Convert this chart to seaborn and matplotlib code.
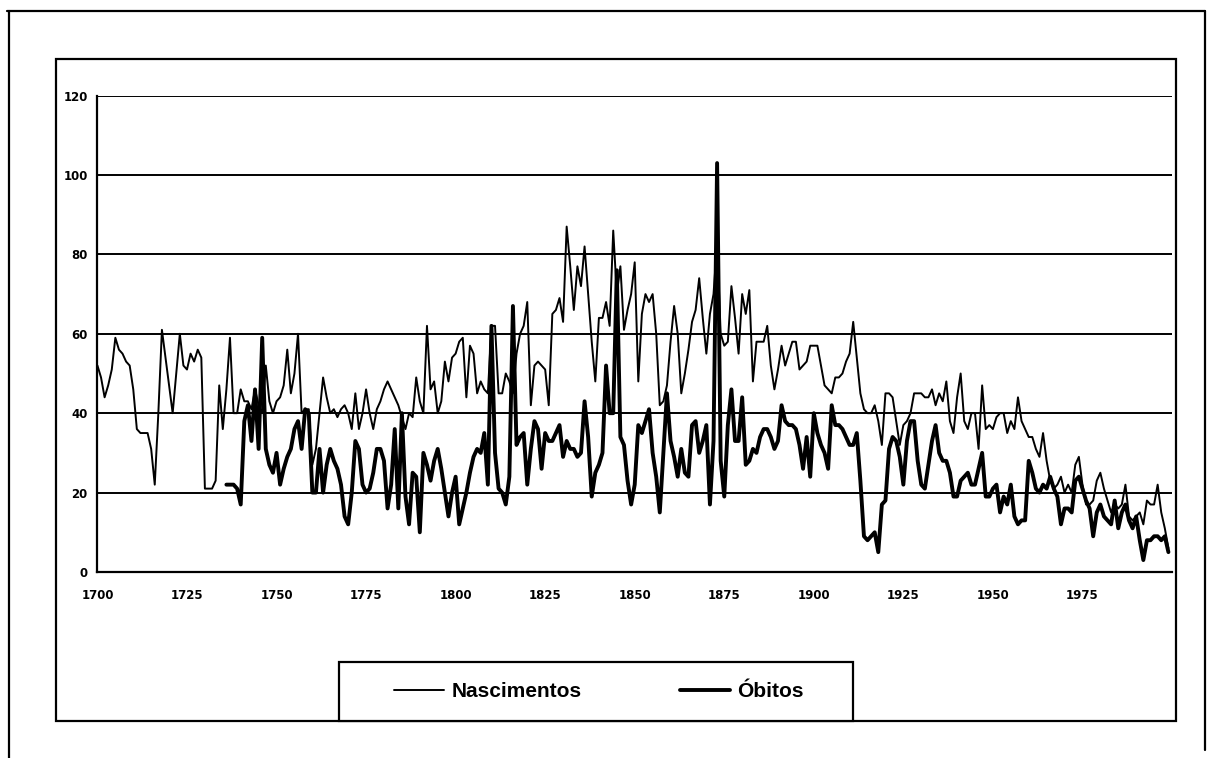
import numpy as np
import pandas as pd
import matplotlib
matplotlib.use('Agg')
import matplotlib.pyplot as plt
from matplotlib.lines import Line2D
from matplotlib.patches import Rectangle
import seaborn as sns

# births per year, 1700-1999
nasc_years = list(range(1700, 2000))
nascimentos = (
    [52, 49, 44, 47, 51, 59, 56, 55, 53, 52]
    + [46, 36, 35, 35, 35, 31, 22, 40, 61, 54]
    + [47, 40, 50, 60, 52, 51, 55, 53, 56, 54]
    + [21, 21, 21, 23, 47, 36, 46, 59, 40, 40]
    + [46, 43, 43, 41, 46, 42, 40, 52, 43, 40]
    + [43, 44, 47, 56, 45, 50, 60, 40, 41, 41]
    + [27, 31, 40, 49, 44, 40, 41, 39, 41, 42]
    + [40, 36, 45, 36, 40, 46, 40, 36, 41, 43]
    + [46, 48, 46, 44, 42, 39, 36, 40, 39, 49]
    + [43, 40, 62, 46, 48, 40, 43, 53, 48, 54]
    + [55, 58, 59, 44, 57, 55, 45, 48, 46, 45]
    + [62, 62, 45, 45, 50, 48, 45, 55, 60, 62]
    + [68, 42, 52, 53, 52, 51, 42, 65, 66, 69]
    + [63, 87, 77, 66, 77, 72, 82, 70, 58, 48]
    + [64, 64, 68, 62, 86, 70, 77, 61, 66, 70]
    + [78, 48, 65, 70, 68, 70, 60, 42, 43, 47]
    + [58, 67, 60, 45, 50, 56, 63, 66, 74, 64]
    + [55, 65, 70, 83, 60, 57, 58, 72, 64, 55]
    + [70, 65, 71, 48, 58, 58, 58, 62, 52, 46]
    + [51, 57, 52, 55, 58, 58, 51, 52, 53, 57]
    + [57, 57, 52, 47, 46, 45, 49, 49, 50, 53]
    + [55, 63, 54, 45, 41, 40, 40, 42, 38, 32]
    + [45, 45, 44, 38, 32, 37, 38, 40, 45, 45]
    + [45, 44, 44, 46, 42, 45, 43, 48, 38, 35]
    + [44, 50, 38, 36, 40, 40, 31, 47, 36, 37]
    + [36, 39, 40, 40, 35, 38, 36, 44, 38, 36]
    + [34, 34, 31, 29, 35, 28, 23, 21, 22, 24]
    + [20, 22, 20, 27, 29, 22, 17, 17, 18, 23]
    + [25, 21, 18, 15, 17, 16, 17, 22, 14, 13]
    + [14, 15, 12, 18, 17, 17, 22, 15, 11, 6]
)

# deaths per year, 1736-1999
obit_years = list(range(1736, 2000))
obitos = (
    [22, 22, 22, 21]
    + [17, 38, 42, 33, 46, 31, 59, 31, 27, 25]
    + [30, 22, 26, 29, 31, 36, 38, 31, 41, 40]
    + [20, 20, 31, 20, 27, 31, 28, 26, 22, 14]
    + [12, 20, 33, 31, 22, 20, 21, 25, 31, 31]
    + [28, 16, 22, 36, 16, 40, 19, 12, 25, 24]
    + [10, 30, 27, 23, 28, 31, 26, 20, 14, 20]
    + [24, 12, 16, 20, 25, 29, 31, 30, 35, 22]
    + [62, 30, 21, 20, 17, 24, 67, 32, 34, 35]
    + [22, 31, 38, 36, 26, 35, 33, 33, 35, 37]
    + [29, 33, 31, 31, 29, 30, 43, 34, 19, 25]
    + [27, 30, 52, 40, 40, 76, 34, 32, 23, 17]
    + [22, 37, 35, 38, 41, 30, 24, 15, 30, 45]
    + [33, 29, 24, 31, 25, 24, 37, 38, 30, 33]
    + [37, 17, 33, 103, 28, 19, 37, 46, 33, 33]
    + [44, 27, 28, 31, 30, 34, 36, 36, 34, 31]
    + [33, 42, 38, 37, 37, 36, 32, 26, 34, 24]
    + [40, 35, 32, 30, 26, 42, 37, 37, 36, 34]
    + [32, 32, 35, 23, 9, 8, 9, 10, 5, 17]
    + [18, 31, 34, 33, 29, 22, 33, 38, 38, 28]
    + [22, 21, 27, 33, 37, 30, 28, 28, 25, 19]
    + [19, 23, 24, 25, 22, 22, 26, 30, 19, 19]
    + [21, 22, 15, 19, 17, 22, 14, 12, 13, 13]
    + [28, 25, 21, 20, 22, 21, 24, 21, 19, 12]
    + [16, 16, 15, 23, 24, 21, 18, 16, 9, 15]
    + [17, 14, 13, 12, 18, 11, 15, 17, 13, 11]
    + [14, 8, 3, 8, 8, 9, 9, 8, 9, 5]
)

x_ticks = list(range(1700, 2000, 25))
y_ticks = [0, 20, 40, 60, 80, 100, 120]

sns.set_style('white')
plt.rcParams['font.family'] = ['DejaVu Sans']
plt.rcParams['text.color'] = 'black'
plt.rcParams['xtick.color'] = 'black'
plt.rcParams['ytick.color'] = 'black'

fig = plt.figure(figsize=(12.15, 7.58), dpi=100)
ax = fig.add_axes([0.0802, 0.2454, 0.8844, 0.6285])

for y in y_ticks[1:]:
    ax.axhline(y, color='black', lw=1.4, zorder=1)

sns.lineplot(x=nasc_years, y=nascimentos, color='black', lw=1.4, ax=ax, zorder=3)
sns.lineplot(x=obit_years, y=obitos, color='black', lw=2.8, ax=ax, zorder=2)

ax.set_xlim(1700, 2000)
ax.set_ylim(0, 120)
ax.set_xticks(x_ticks)
ax.set_yticks(y_ticks)
ax.set_xticklabels([str(t) for t in x_ticks], fontsize=8.5, fontweight='bold', color='black')
ax.set_yticklabels([str(t) for t in y_ticks], fontsize=8.5, fontweight='bold', color='black')
ax.tick_params(axis='both', direction='out', length=4, width=1.3, color='black', pad=3)
ax.tick_params(axis='x', pad=8)
for side in ['top', 'right']:
    ax.spines[side].set_visible(False)
for side in ['left', 'bottom']:
    ax.spines[side].set_color('black')
    ax.spines[side].set_linewidth(1.6)
ax.set_xlabel('')
ax.set_ylabel('')

# chart area box and page frame
fig.patches.append(Rectangle((0.0461, 0.0488), 0.9218, 0.8734, transform=fig.transFigure,
                             fill=False, edgecolor='black', lw=1.6))
fig.lines.append(Line2D([0.006, 0.992], [0.985, 0.985], transform=fig.transFigure, color='black', lw=1.6))
fig.lines.append(Line2D([0.0074, 0.0074], [0.0, 0.985], transform=fig.transFigure, color='black', lw=1.6))
fig.lines.append(Line2D([0.9918, 0.9918], [0.01, 0.985], transform=fig.transFigure, color='black', lw=1.6))

# legend box touching the bottom of the chart area
fig.patches.append(Rectangle((0.279, 0.0488), 0.423, 0.0778, transform=fig.transFigure,
                             fill=True, facecolor='white', edgecolor='black', lw=1.6, zorder=5))
handles = [Line2D([], [], color='black', lw=1.4), Line2D([], [], color='black', lw=2.8)]
leg = fig.legend(handles, ['Nascimentos', 'Óbitos'], loc='center', bbox_to_anchor=(0.493, 0.0877),
                 ncol=2, frameon=False, handlelength=2.4, handletextpad=0.35, columnspacing=4.7,
                 prop={'family': 'Liberation Sans', 'size': 15, 'weight': 'bold'})
for t in leg.get_texts():
    t.set_color('black')
leg.set_zorder(6)

fig.savefig('out.png', dpi=100)
